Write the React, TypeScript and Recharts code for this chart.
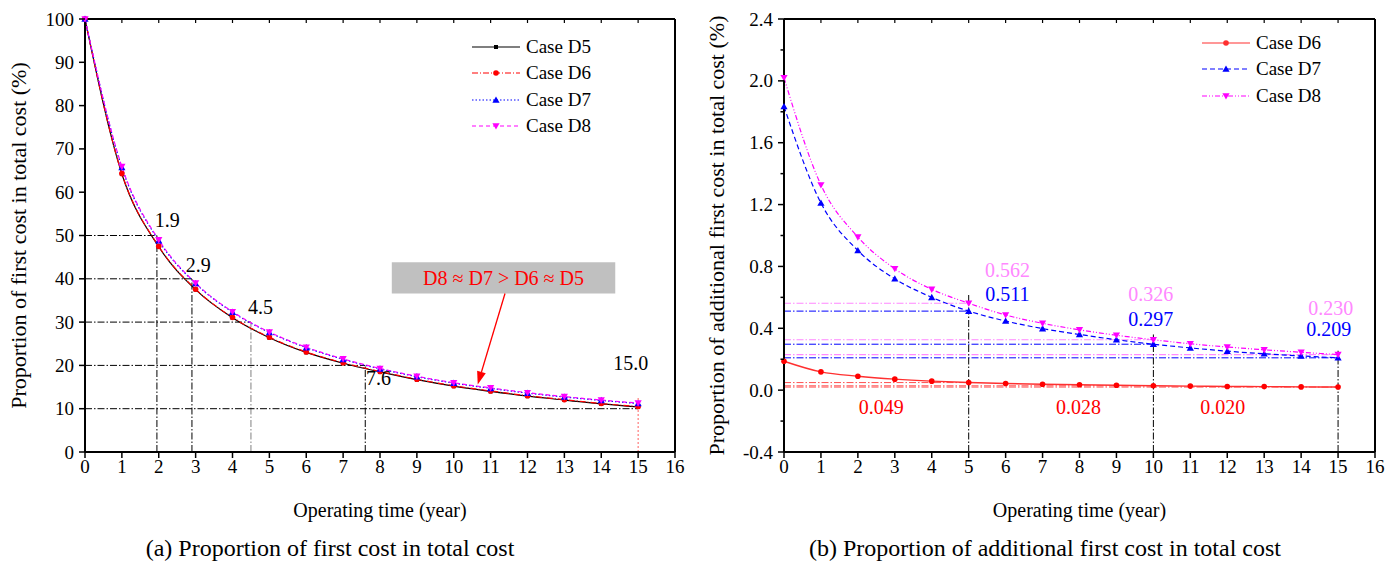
import React from 'react';
import { LineChart, Line, XAxis, YAxis, ReferenceLine, ReferenceDot, ReferenceArea } from 'recharts';

const FONT = '"Liberation Serif", "Times New Roman", serif';

// operating time (year)
const years = [0, 1, 2, 3, 4, 5, 6, 7, 8, 9, 10, 11, 12, 13, 14, 15];
const xTicks = [0, 1, 2, 3, 4, 5, 6, 7, 8, 9, 10, 11, 12, 13, 14, 15, 16];

// (a) proportion of first cost in total cost (%)
const firstD5 = [100, 64.2, 47.4, 37.5, 31.0, 26.4, 23.0, 20.5, 18.5, 16.7, 15.2, 14.0, 12.9, 12.0, 11.1, 10.4];
const firstD6 = [100, 64.3, 47.5, 37.6, 31.1, 26.5, 23.1, 20.6, 18.6, 16.8, 15.3, 14.1, 13.0, 12.1, 11.2, 10.5];
const firstD7 = [100, 65.7, 48.8, 38.9, 32.3, 27.6, 24.1, 21.4, 19.2, 17.4, 15.9, 14.7, 13.6, 12.7, 11.9, 11.2];
const firstD8 = [100, 65.9, 49.0, 39.0, 32.4, 27.7, 24.2, 21.5, 19.3, 17.5, 16.0, 14.8, 13.7, 12.8, 12.0, 11.3];
const firstTicks = [0, 10, 20, 30, 40, 50, 60, 70, 80, 90, 100];
// payback marks: [year, level]
const paybackMarks = [[1.95, 50], [2.9, 40], [4.5, 30], [7.6, 20]];
const paybackLabels = ['1.9', '2.9', '4.5', '7.6', '15.0'];

// (b) proportion of additional first cost in total cost (%)
const addD6 = [0.187, 0.118, 0.090, 0.071, 0.058, 0.049, 0.043, 0.038, 0.035, 0.032, 0.028, 0.026, 0.024, 0.023, 0.021, 0.020];
const addD7 = [1.834, 1.21, 0.903, 0.72, 0.60, 0.511, 0.447, 0.398, 0.36, 0.326, 0.297, 0.273, 0.252, 0.235, 0.221, 0.209];
const addD8 = [2.02, 1.327, 0.99, 0.785, 0.652, 0.562, 0.486, 0.432, 0.39, 0.355, 0.326, 0.30, 0.279, 0.261, 0.245, 0.230];
const addTicks = [-0.4, -0.2, 0, 0.2, 0.4, 0.6, 0.8, 1.0, 1.2, 1.4, 1.6, 1.8, 2.0, 2.2, 2.4];
const markYears = [5, 10, 15];
const markD6 = ['0.049', '0.028', '0.020'];
const markD7 = ['0.511', '0.297', '0.209'];
const markD8 = ['0.562', '0.326', '0.230'];

const dataA = years.map((t, i) => ({ t, D5: firstD5[i], D6: firstD6[i], D7: firstD7[i], D8: firstD8[i] }));
const dataB = years.map((t, i) => ({ t, D6: addD6[i], D7: addD7[i], D8: addD8[i] }));

function marker(kind: string, cx: number, cy: number, color: string, key?: any) {
  if (kind === 'square') return <rect key={key} x={cx - 2} y={cy - 2} width={4} height={4} fill={color} />;
  if (kind === 'circle') return <circle key={key} cx={cx} cy={cy} r={2.8} fill={color} />;
  if (kind === 'up')
    return <polygon key={key} points={`${cx},${cy - 3.6} ${cx - 3.6},${cy + 2.8} ${cx + 3.6},${cy + 2.8}`} fill={color} />;
  return <polygon key={key} points={`${cx},${cy + 3.6} ${cx - 3.6},${cy - 2.8} ${cx + 3.6},${cy - 2.8}`} fill={color} />;
}

const dotOf = (kind: string, color: string) => (p: any) => {
  if (p.cx == null || p.cy == null) return <g key={p.index} />;
  return marker(kind, p.cx, p.cy, color, p.index);
};

function LegendBox({ items, left, top }: { items: any[]; left: number; top: number }) {
  return (
    <div style={{ position: 'absolute', left, top, fontFamily: FONT, fontSize: 19, color: '#000' }}>
      {items.map((it) => (
        <div key={it.name} style={{ display: 'flex', alignItems: 'center', height: 26.3 }}>
          <svg width={52} height={12}>
            <line x1={2} x2={50} y1={6} y2={6} stroke={it.color} strokeWidth={1.2} strokeDasharray={it.dash} />
            {marker(it.kind, 26, 6, it.color)}
          </svg>
          <span style={{ marginLeft: 4 }}>{it.name}</span>
        </div>
      ))}
    </div>
  );
}

const legendA = [
  { name: 'Case D5', color: '#000', dash: undefined, kind: 'square' },
  { name: 'Case D6', color: '#ff0000', dash: '6 2 1 2', kind: 'circle' },
  { name: 'Case D7', color: '#0000ff', dash: '1.5 2', kind: 'up' },
  { name: 'Case D8', color: '#ff00ff', dash: '4 3', kind: 'down' },
];
const legendB = [
  { name: 'Case D6', color: '#ff3030', dash: undefined, kind: 'circle' },
  { name: 'Case D7', color: '#0000ff', dash: '5 3', kind: 'up' },
  { name: 'Case D8', color: '#ff00ff', dash: '5 2 1 2 1 2', kind: 'down' },
];

const yTick = (fmt: (v: number) => string, isMajor: (v: number) => boolean) => (p: any) => {
  const v = p.payload.value;
  const ax = p.x + 10;
  const major = isMajor(v);
  return (
    <g>
      <line x1={ax} x2={ax - (major ? 6 : 3.5)} y1={p.y} y2={p.y} stroke="#000" strokeWidth={1.5} />
      {major && (
        <text x={p.x - 1} y={p.y} dy={6.5} textAnchor="end" style={{ fontFamily: FONT, fontSize: 19 }} fill="#000">
          {fmt(v)}
        </text>
      )}
    </g>
  );
};

const arrowShape = (p: any) => {
  const { x1, y1, x2, y2 } = p;
  const a = Math.atan2(y2 - y1, x2 - x1);
  const L = 13, W = 4.5;
  const bx = x2 - L * Math.cos(a), by = y2 - L * Math.sin(a);
  const px = -Math.sin(a) * W, py = Math.cos(a) * W;
  return (
    <g>
      <line x1={x1} y1={y1} x2={bx} y2={by} stroke="#ff0000" strokeWidth={1.3} />
      <polygon points={`${x2},${y2} ${bx + px},${by + py} ${bx - px},${by - py}`} fill="#ff0000" />
    </g>
  );
};

const axisTickStyle = { fontFamily: FONT, fontSize: 19, fill: '#000' };
const titleStyle = { fontFamily: FONT, fontSize: 20, fill: '#000' };
const yTitleStyle = { fontFamily: FONT, fontSize: 22, fill: '#000', textAnchor: 'middle' as const };
const DASHDOT = '7 2 1.5 2';

const lbl = (value: string, fill: string) => ({ value, position: 'center' as const, fill, style: { fontFamily: FONT, fontSize: 20 } });

function ChartA() {
  return (
    <LineChart width={700} height={530} data={dataA} margin={{ top: 19, right: 25, left: 10, bottom: 48 }}>
      <XAxis
        dataKey="t" type="number" domain={[0, 16]} ticks={xTicks} interval={0}
        axisLine={{ stroke: '#000', strokeWidth: 2 }} tickLine={{ stroke: '#000', strokeWidth: 1.5 }}
        tickSize={6} tick={axisTickStyle} height={30}
        label={{ value: 'Operating time (year)', position: 'bottom', offset: 21, style: titleStyle }}
      />
      <XAxis
        xAxisId="top" orientation="top" dataKey="t" type="number" domain={[0, 16]} ticks={xTicks} interval={0}
        mirror height={1} tickSize={4} tickFormatter={() => ''}
        axisLine={{ stroke: '#000', strokeWidth: 2 }} tickLine={{ stroke: '#000', strokeWidth: 1.2 }}
      />
      <YAxis
        type="number" domain={[0, 100]} ticks={firstTicks} interval={0} width={75}
        axisLine={{ stroke: '#000', strokeWidth: 2 }} tickLine={false} tickSize={6} tickMargin={4}
        tick={yTick((v) => String(v), () => true)}
        label={{ value: 'Proportion of first cost in total cost (%)', angle: -90, position: 'insideLeft', offset: 8, style: yTitleStyle }}
      />
      <YAxis
        yAxisId="right" orientation="right" type="number" domain={[0, 100]} ticks={firstTicks} interval={0}
        mirror width={1} tickSize={4} tickFormatter={() => ''}
        axisLine={{ stroke: '#000', strokeWidth: 2 }} tickLine={{ stroke: '#000', strokeWidth: 1.2 }}
      />

      {paybackMarks.map(([x, y]) => (
        <ReferenceLine key={'h' + x} segment={[{ x: 0, y }, { x, y }]} stroke="#000" strokeWidth={1} strokeDasharray={DASHDOT} />
      ))}
      {paybackMarks.map(([x, y]) => (
        <ReferenceLine
          key={'v' + x} segment={[{ x, y: 0 }, { x, y }]}
          stroke={x === 4.5 ? '#808080' : '#000'} strokeWidth={1} strokeDasharray={DASHDOT}
        />
      ))}
      <ReferenceLine segment={[{ x: 0, y: 10 }, { x: 15, y: 10 }]} stroke="#000" strokeWidth={1} strokeDasharray={DASHDOT} />
      <ReferenceLine segment={[{ x: 15, y: 0 }, { x: 15, y: 12.8 }]} stroke="#ff6060" strokeWidth={1} strokeDasharray="2 2" />

      <ReferenceArea
        x1={8.32} x2={14.38} y1={36.6} y2={43.8} fill="#c0c0c0" fillOpacity={1} stroke="none"
        label={lbl('D8 ≈ D7 > D6 ≈ D5', '#ff0000')}
      />
      <ReferenceLine segment={[{ x: 11.39, y: 36.6 }, { x: 10.65, y: 15.6 }]} shape={arrowShape} />

      <Line dataKey="D5" stroke="#000" strokeWidth={1.2} type="monotone" dot={dotOf('square', '#000')} isAnimationActive={false} />
      <Line dataKey="D6" stroke="#ff0000" strokeWidth={1.2} strokeDasharray="6 2 1 2" type="monotone" dot={dotOf('circle', '#ff0000')} isAnimationActive={false} />
      <Line dataKey="D7" stroke="#0000ff" strokeWidth={1.2} strokeDasharray="1.5 2" type="monotone" dot={dotOf('up', '#0000ff')} isAnimationActive={false} />
      <Line dataKey="D8" stroke="#ff00ff" strokeWidth={1.2} strokeDasharray="4 3" type="monotone" dot={dotOf('down', '#ff00ff')} isAnimationActive={false} />

      {[[2.23, 53.5], [3.07, 43.3], [4.76, 33.6], [7.96, 17.1], [14.8, 20.6]].map(([x, y], i) => (
        <ReferenceDot key={'l' + i} x={x} y={y} r={0} fill="none" stroke="none" label={lbl(paybackLabels[i], '#000')} />
      ))}
    </LineChart>
  );
}

function ChartB() {
  const pink = '#ff88ff';
  const blue = '#0000ff';
  const red = '#ff0000';
  return (
    <LineChart width={700} height={530} data={dataB} margin={{ top: 19, right: 25, left: 10, bottom: 48 }}>
      <XAxis
        dataKey="t" type="number" domain={[0, 16]} ticks={xTicks} interval={0}
        axisLine={{ stroke: '#000', strokeWidth: 2 }} tickLine={{ stroke: '#000', strokeWidth: 1.5 }}
        tickSize={6} tick={axisTickStyle} height={30}
        label={{ value: 'Operating time (year)', position: 'bottom', offset: 21, style: titleStyle }}
      />
      <XAxis
        xAxisId="top" orientation="top" dataKey="t" type="number" domain={[0, 16]} ticks={xTicks} interval={0}
        mirror height={1} tickSize={4} tickFormatter={() => ''}
        axisLine={{ stroke: '#000', strokeWidth: 2 }} tickLine={{ stroke: '#000', strokeWidth: 1.2 }}
      />
      <YAxis
        type="number" domain={[-0.4, 2.4]} ticks={addTicks} interval={0} width={74}
        axisLine={{ stroke: '#000', strokeWidth: 2 }} tickLine={false} tickSize={6} tickMargin={4}
        tick={yTick((v) => v.toFixed(1), (v) => Math.abs(Math.round(v * 10)) % 4 === 0)}
        label={{ value: 'Proportion of additional first cost in total cost (%)', angle: -90, position: 'insideLeft', offset: 6, style: yTitleStyle }}
      />
      <YAxis
        yAxisId="right" orientation="right" type="number" domain={[-0.4, 2.4]} ticks={addTicks} interval={0}
        mirror width={1} tickSize={4} tickFormatter={() => ''}
        axisLine={{ stroke: '#000', strokeWidth: 2 }} tickLine={{ stroke: '#000', strokeWidth: 1.2 }}
      />

      {markYears.map((x, i) => (
        <ReferenceLine key={'p' + x} segment={[{ x: 0, y: Number(markD8[i]) }, { x, y: Number(markD8[i]) }]} stroke={pink} strokeWidth={1.2} strokeDasharray={DASHDOT} />
      ))}
      {markYears.map((x, i) => (
        <ReferenceLine key={'b' + x} segment={[{ x: 0, y: Number(markD7[i]) }, { x, y: Number(markD7[i]) }]} stroke={blue} strokeWidth={1} strokeDasharray={DASHDOT} />
      ))}
      {markYears.map((x, i) => (
        <ReferenceLine key={'r' + x} segment={[{ x: 0, y: Number(markD6[i]) }, { x, y: Number(markD6[i]) }]} stroke="#ff5050" strokeWidth={1} strokeDasharray={DASHDOT} />
      ))}
      {markYears.map((x, i) => (
        <ReferenceLine key={'v' + x} segment={[{ x, y: -0.4 }, { x, y: [0.62, 0.36, 0.255][i] }]} stroke="#000" strokeWidth={1} strokeDasharray={DASHDOT} />
      ))}

      <Line dataKey="D6" stroke="#ff3030" strokeWidth={1.4} type="monotone" dot={dotOf('circle', red)} isAnimationActive={false} />
      <Line dataKey="D7" stroke={blue} strokeWidth={1.2} strokeDasharray="5 3" type="monotone" dot={dotOf('up', blue)} isAnimationActive={false} />
      <Line dataKey="D8" stroke="#ff00ff" strokeWidth={1.2} strokeDasharray="5 2 1 2 1 2" type="monotone" dot={dotOf('down', '#ff00ff')} isAnimationActive={false} />

      {[[6.05, 0.78], [9.93, 0.62], [14.8, 0.535]].map(([x, y], i) => (
        <ReferenceDot key={'tp' + i} x={x} y={y} r={0} fill="none" stroke="none" label={lbl(markD8[i], pink)} />
      ))}
      {[[6.05, 0.62], [9.93, 0.458], [14.75, 0.394]].map(([x, y], i) => (
        <ReferenceDot key={'tb' + i} x={x} y={y} r={0} fill="none" stroke="none" label={lbl(markD7[i], blue)} />
      ))}
      {[[2.63, -0.11], [7.97, -0.11], [11.88, -0.11]].map(([x, y], i) => (
        <ReferenceDot key={'tr' + i} x={x} y={y} r={0} fill="none" stroke="none" label={lbl(markD6[i], red)} />
      ))}
    </LineChart>
  );
}

export default function App() {
  const cap = { position: 'absolute' as const, top: 535, fontFamily: FONT, fontSize: 24, color: '#000', whiteSpace: 'nowrap' as const, transform: 'translateX(-50%)' };
  return (
    <div style={{ position: 'absolute', left: 0, top: 0, width: 1400, height: 571, background: '#fff', overflow: 'hidden' }}>
      <div style={{ position: 'absolute', left: 0, top: 0 }}>
        <ChartA />
      </div>
      <div style={{ position: 'absolute', left: 700, top: 0 }}>
        <ChartB />
      </div>
      <LegendBox items={legendA} left={470} top={34} />
      <LegendBox items={legendB} left={1200} top={30} />
      <div style={{ ...cap, left: 330 }}>(a) Proportion of first cost in total cost</div>
      <div style={{ ...cap, left: 1045 }}>(b) Proportion of additional first cost in total cost</div>
    </div>
  );
}
